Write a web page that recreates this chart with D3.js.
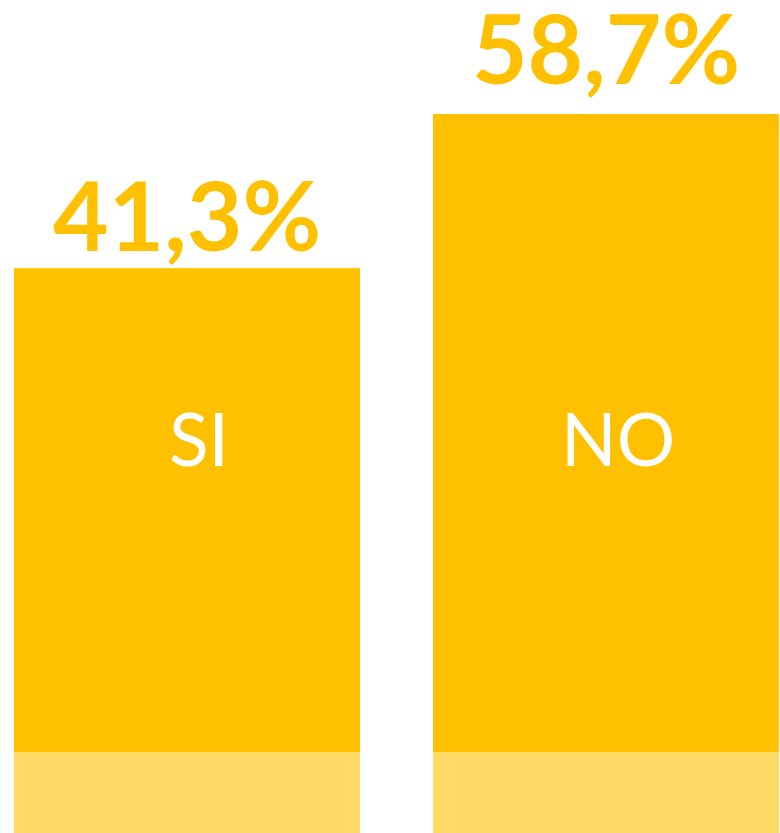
<!DOCTYPE html>
<html>
<head>
<meta charset="utf-8">
<script src="https://d3js.org/d3.v7.min.js"></script>
<style>
  html, body { margin: 0; padding: 0; background: #fff; overflow: hidden; }
</style>
</head>
<body>
<div id="chart"></div>
<script>
var categories = ["SI", "NO"];
var values = [41.3, 58.7];
var valueLabels = ["41,3%", "58,7%"];

var width = 780, height = 833;
var baseTop = 752;      // top of the light strip at the foot of the bars
var zeroY = 634;        // where 0 % would sit on the value scale

var svg = d3.select("#chart").append("svg")
  .attr("width", width)
  .attr("height", height);

// two bars 346px wide with a 73px gap between them
var x = d3.scaleBand()
  .domain(categories)
  .range([14, 779])
  .paddingInner(73 / 419)
  .paddingOuter(0);

var y = d3.scaleLinear()
  .domain([0, d3.max(values)])
  .range([zeroY, 114]);

var data = categories.map(function(c, i) {
  return { cat: c, value: values[i], label: valueLabels[i] };
});

// main bars
svg.selectAll("rect.bar")
  .data(data)
  .enter().append("rect")
  .attr("class", "bar")
  .attr("x", function(d) { return x(d.cat); })
  .attr("y", function(d) { return y(d.value); })
  .attr("width", x.bandwidth())
  .attr("height", function(d) { return height - y(d.value); })
  .style("fill", "#FFC000");

// light strip at the bottom
svg.selectAll("rect.base")
  .data(data)
  .enter().append("rect")
  .attr("class", "base")
  .attr("x", function(d) { return x(d.cat); })
  .attr("y", baseTop)
  .attr("width", x.bandwidth())
  .attr("height", height - baseTop)
  .style("fill", "#FFD966");

// value labels above bars
var labelGap = [17, 30];
svg.selectAll("text.value")
  .data(data)
  .enter().append("text")
  .attr("class", "value")
  .attr("x", function(d) { return x(d.cat) + x.bandwidth() / 2; })
  .attr("y", function(d, i) { return y(d.value) - labelGap[i]; })
  .attr("text-anchor", "middle")
  .style("font-family", "Lato, 'Open Sans', sans-serif")
  .style("font-weight", "bold")
  .style("font-size", "96px")
  .style("fill", "#FFC000")
  .text(function(d) { return d.label; });

// category names inside bars
svg.selectAll("text.cat")
  .data(data)
  .enter().append("text")
  .attr("class", "cat")
  .attr("x", function(d) { return x(d.cat) + x.bandwidth() / 2 + 12; })
  .attr("y", 466)
  .attr("text-anchor", "middle")
  .style("font-family", "Lato, 'Open Sans', sans-serif")
  .style("font-size", "73px")
  .style("fill", "#ffffff")
  .text(function(d) { return d.cat; });
</script>
</body>
</html>
